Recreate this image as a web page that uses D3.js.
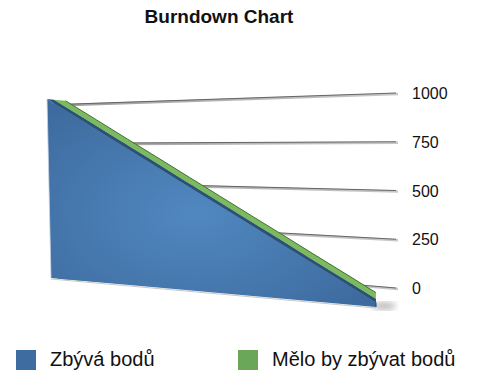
<!DOCTYPE html>
<html><head><meta charset="utf-8">
<script src="https://cdn.jsdelivr.net/npm/d3@7"></script>
<style>body{margin:0;background:#fff}svg{display:block}</style>
</head><body>
<svg id="c" width="485" height="379"></svg>
<script>
// ---- data ----
const categories = ["1","2","3","4","5","6","7","8","9","10","11"];
const remaining = [1000,903,805,708,610,513,415,318,220,123,25];   // Zbývá bodů
const ideal     = [1000,903,805,708,610,513,415,318,220,123,25];   // Mělo by zbývat bodů
const yTicks = [0,250,500,750,1000];
const seriesNames = ["Zbývá bodů","Mělo by zbývat bodů"];
const title = "Burndown Chart";

const svg = d3.select("#c");
const FONT = "'Helvetica Neue', Helvetica, Arial, 'Liberation Sans', sans-serif";

// scales (normalised), then a simple oblique 3D projection
const tScale = d3.scalePoint().domain(categories).range([0,1]);
const vScale = d3.scaleLinear().domain([0,1000]).range([0,1]);

function front(t,f){ return [51 + t*325 - f*4, 278 + t*29 - f*179]; }
function depthVec(t){ return [6*(1-t), 0.6*(1-t) - 3.2*t]; }
function P(t,f,d){ const a=front(t,f), v=depthVec(t); return [a[0]+d*v[0], a[1]+d*v[1]]; }
// back wall (perspective: lines converge to the left)
function wall(t,f){
  const xl=70,xr=398, yl=260.5-f*156.4, yr=288-f*195;
  return [xl+t*(xr-xl), yl+t*(yr-yl)];
}

const defs = svg.append("defs");
const rg = defs.append("radialGradient").attr("id","blueG").attr("cx","45%").attr("cy","55%").attr("r","65%");
rg.append("stop").attr("offset","0%").attr("stop-color","#5088c0");
rg.append("stop").attr("offset","100%").attr("stop-color","#3e6b9f");
defs.append("filter").attr("id","blur").append("feGaussianBlur").attr("stdDeviation",3);
const gg = defs.append("linearGradient").attr("id","gridG").attr("x1","0").attr("x2","1");
gg.append("stop").attr("offset","0%").attr("stop-color","#a0a0a0");
gg.append("stop").attr("offset","100%").attr("stop-color","#c8c8c8");

// title
svg.append("text").attr("x",219).attr("y",23).attr("text-anchor","middle")
  .attr("font-family",FONT).attr("font-weight","bold").attr("font-size",19).attr("fill","#111").text(title);

// gridlines on back wall + value labels
const grid = svg.append("g");
yTicks.forEach(v=>{
  const f=vScale(v), a=wall(0,f), b=wall(1,f);
  grid.append("line").attr("x1",a[0]).attr("y1",a[1]+1).attr("x2",b[0]).attr("y2",b[1]+1)
    .attr("stroke","url(#gridG)").attr("stroke-width",2.5);
  grid.append("line").attr("x1",a[0]).attr("y1",a[1]).attr("x2",b[0]-2).attr("y2",b[1])
    .attr("stroke","#5a5a5a").attr("stroke-width",0.9);
  grid.append("text").attr("x",412).attr("y",b[1]+6)
    .attr("font-family",FONT).attr("font-size",16).attr("fill","#111").text(d3.format("d")(v));
});

// floor shadow
svg.append("ellipse").attr("cx",384).attr("cy",306).attr("rx",12).attr("ry",4)
  .attr("fill","#bbb").attr("filter","url(#blur)");
svg.append("line").attr("x1",front(0,0)[0]).attr("y1",front(0,0)[1]+1)
  .attr("x2",front(1,0)[0]).attr("y2",front(1,0)[1]+1).attr("stroke","#c8c8c8").attr("stroke-width",1);

const line = d3.line();
function topEdge(vals,d){ return vals.map((v,i)=>P(tScale(categories[i]), vScale(v), d)); }
function frontFace(vals,d){
  const pts = topEdge(vals,d);
  pts.push(P(1,0,d)); pts.push(P(0,0,d));
  return pts;
}
function topFace(vals,d0,d1){
  return topEdge(vals,d0).concat(topEdge(vals,d1).reverse());
}

// green series (behind)
svg.append("path").attr("d", line(frontFace(ideal,1.1))+"Z").attr("fill","#5c9748");
svg.append("path").attr("d", line(topFace(ideal,1.1,3.1))+"Z").attr("fill","#7bba5f");
svg.append("path").attr("d", line(topEdge(ideal,3.1))).attr("fill","none").attr("stroke","#446f33").attr("stroke-width",1);

// blue series (front)
svg.append("path").attr("d", line(topFace(remaining,0,1.1))+"Z").attr("fill","#2c4f7c");
svg.append("path").attr("d", line(frontFace(remaining,0))+"Z").attr("fill","url(#blueG)");
svg.append("line").attr("x1",front(0,1)[0]).attr("y1",front(0,1)[1]).attr("x2",front(0,0)[0]).attr("y2",front(0,0)[1])
  .attr("stroke","#c9d3de").attr("stroke-width",0.8);
// dark end edge
const e0 = P(1,vScale(remaining[remaining.length-1]),0), e1 = P(1,0,0);
svg.append("line").attr("x1",e0[0]).attr("y1",e0[1]).attr("x2",e1[0]).attr("y2",e1[1])
  .attr("stroke","#2a4a72").attr("stroke-width",1.2);

// legend
const legend = [
  {name:seriesNames[0], color:"#3e6ca1", x:16},
  {name:seriesNames[1], color:"#6aa758", x:238}
];
legend.forEach(l=>{
  svg.append("rect").attr("x",l.x).attr("y",350).attr("width",20).attr("height",20).attr("fill",l.color);
  svg.append("text").attr("x",l.x+34).attr("y",366).attr("font-family",FONT).attr("font-size",20)
    .attr("fill","#111").text(l.name);
});
</script>
</body></html>
